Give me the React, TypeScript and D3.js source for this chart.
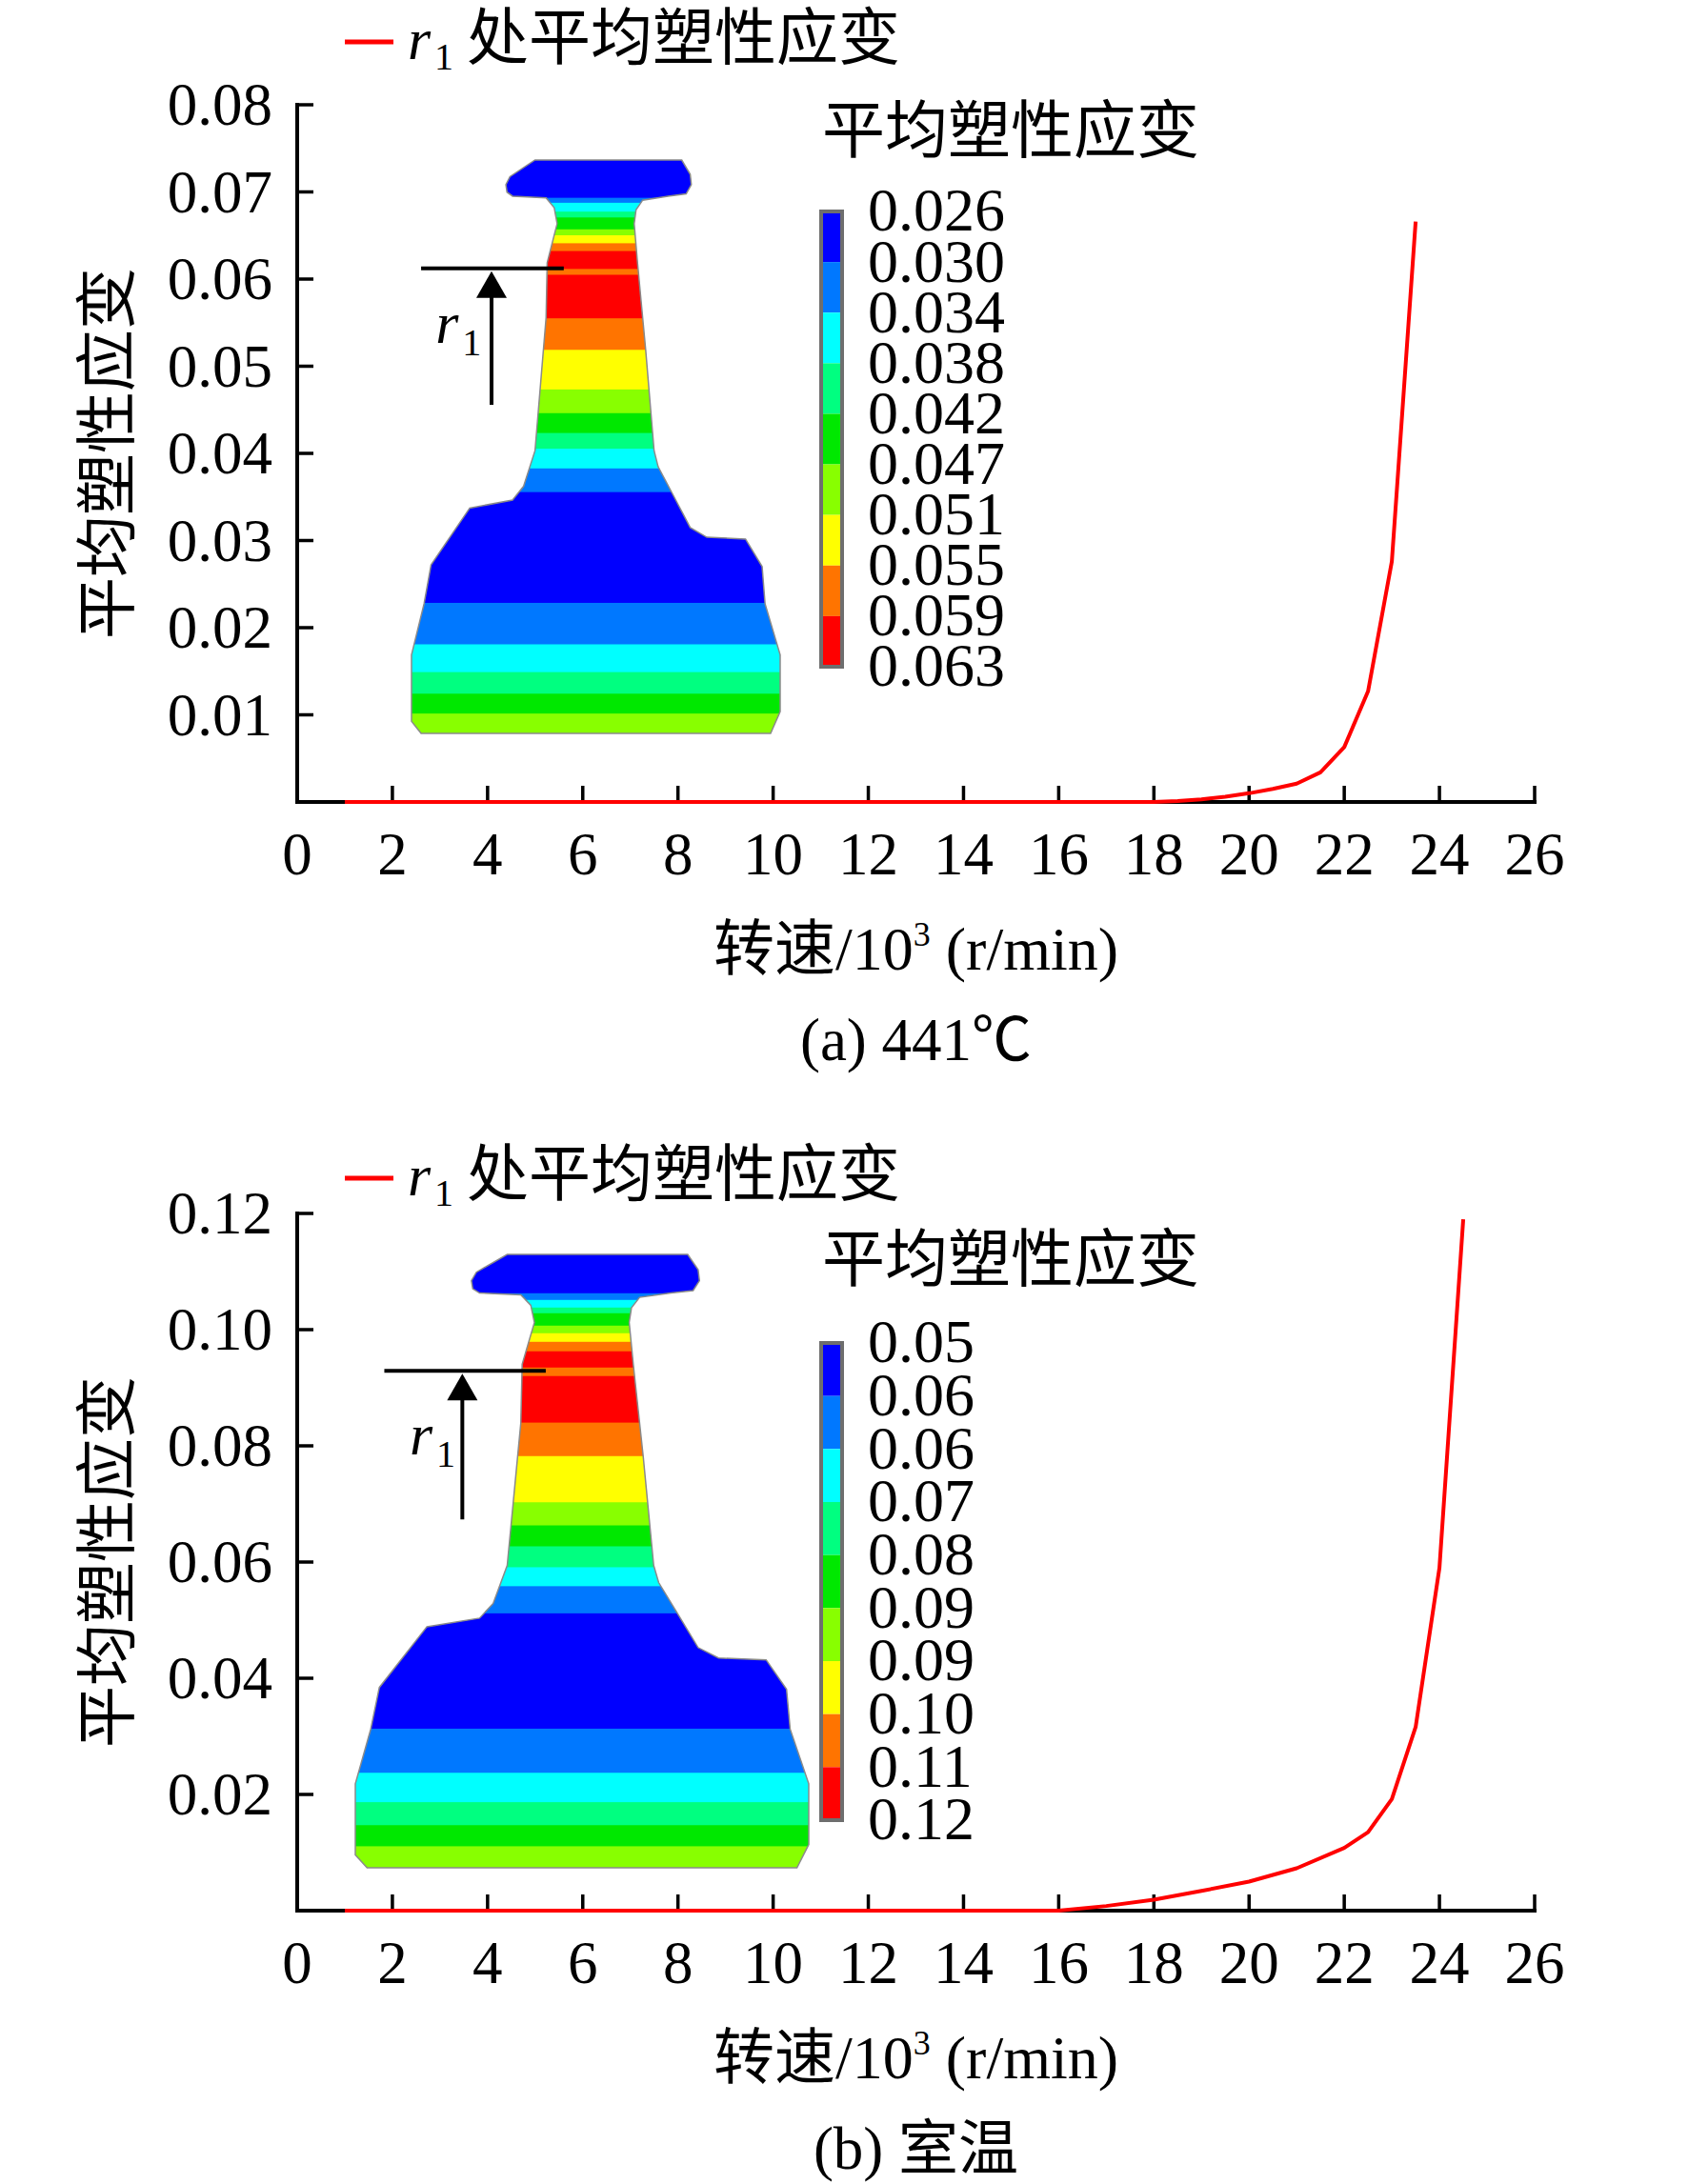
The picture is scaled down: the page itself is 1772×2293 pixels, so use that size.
import React, { useEffect, useRef } from "react";
import * as d3 from "d3";

// speed in 10^3 r/min, average plastic strain at r1
const speedA = [1, 2, 3, 4, 5, 6, 7, 8, 9, 10, 11, 12, 13, 14, 15, 16, 17, 18, 18.5, 19, 19.5, 20, 20.5, 21, 21.5, 22, 22.5, 23, 23.5];
const strainA = [0, 0, 0, 0, 0, 0, 0, 0, 0, 0, 0, 0, 0, 0, 0, 0, 0, 0, 0.0001, 0.0003, 0.0006, 0.001, 0.0015, 0.0021, 0.0034, 0.0063, 0.0127, 0.0276, 0.0666];
const speedB = [1, 2, 3, 4, 5, 6, 7, 8, 9, 10, 11, 12, 13, 14, 15, 16, 17, 18, 19, 20, 21, 22, 22.5, 23, 23.5, 24, 24.5];
const strainB = [0, 0, 0, 0, 0, 0, 0, 0, 0, 0, 0, 0, 0, 0, 0, 0, 0.0008, 0.0019, 0.0034, 0.005, 0.0073, 0.0108, 0.0135, 0.0192, 0.0316, 0.059, 0.119];

const xTicks = [0, 2, 4, 6, 8, 10, 12, 14, 16, 18, 20, 22, 24, 26];
const yTicksA = [0.01, 0.02, 0.03, 0.04, 0.05, 0.06, 0.07, 0.08];
const yTicksB = [0.02, 0.04, 0.06, 0.08, 0.1, 0.12];

const barLabelsA = ["0.026", "0.030", "0.034", "0.038", "0.042", "0.047", "0.051", "0.055", "0.059", "0.063"];
const barLabelsB = ["0.05", "0.06", "0.06", "0.07", "0.08", "0.09", "0.09", "0.10", "0.11", "0.12"];

// contour palette, low -> high
const contourColors = ["#0000ff", "#0078ff", "#00ffff", "#00ff80", "#00e800", "#88ff00", "#ffff00", "#ff7400", "#ff0000"];

// band colour index from top of the section to the bottom
const bandIndex = [0, 1, 2, 3, 4, 5, 6, 7, 8, 7, 8, 7, 6, 5, 4, 3, 2, 1, 0, 1, 2, 3, 4, 5];
// band boundaries, as a fraction of the section height
const bandStopsA = [0.0667, 0.0754, 0.0908, 0.101, 0.1217, 0.1321, 0.146, 0.1596, 0.1908, 0.201, 0.2769, 0.3319, 0.401, 0.4423, 0.4769, 0.5044, 0.5387, 0.58, 0.7732, 0.8455, 0.8939, 0.9316, 0.9662];
const bandStopsB = [0.0641, 0.075, 0.0874, 0.0967, 0.1169, 0.1293, 0.1433, 0.1588, 0.1852, 0.1991, 0.275, 0.3296, 0.4049, 0.4426, 0.4767, 0.5108, 0.5417, 0.586, 0.774, 0.8459, 0.8938, 0.9313, 0.9657];

// disk section outline in unit box coordinates
const railOutline: [number, number][] = [
  [0.335, 0], [0.733, 0], [0.756, 0.025], [0.759, 0.043], [0.745, 0.059], [0.696, 0.063],
  [0.627, 0.07], [0.609, 0.087], [0.604, 0.111], [0.613, 0.179], [0.635, 0.33], [0.658, 0.507],
  [0.669, 0.535], [0.711, 0.586], [0.756, 0.641], [0.801, 0.658], [0.906, 0.661], [0.951, 0.709],
  [0.959, 0.774], [1, 0.863], [1, 0.962], [0.974, 1], [0.026, 1], [0, 0.979], [0, 0.863],
  [0.034, 0.774], [0.053, 0.706], [0.158, 0.607], [0.274, 0.593], [0.304, 0.569], [0.335, 0.507],
  [0.365, 0.275], [0.368, 0.179], [0.395, 0.111], [0.387, 0.083], [0.365, 0.066], [0.274, 0.063],
  [0.259, 0.056], [0.256, 0.043], [0.267, 0.029],
];

const W = 1772;
const H = 2293;
const SERIF = '"Liberation Serif", "Times New Roman", "Noto Sans CJK SC", serif';
const CJK = '"Noto Sans CJK SC", "Noto Sans CJK JP", sans-serif';

const panels = [
  {
    key: "a", speeds: speedA, strain: strainA, yMax: 0.08, yTicks: yTicksA,
    top: 110, bottom: 842, legendY: 44, caption: "(a) 441℃",
    barLabels: barLabelsA, bandStops: bandStopsA, barTitleY: 160, barTop: 222, barBottom: 700,
    shape: { x0: 432, x1: 819, y0: 168, y1: 770 },
    marker: { lx0: 0.026, lx1: 0.413, ly: 0.189, ax: 0.217, ay1: 0.427, rx: 0.065, ry: 0.319 },
  },
  {
    key: "b", speeds: speedB, strain: strainB, yMax: 0.12, yTicks: yTicksB,
    top: 1274, bottom: 2006, legendY: 1237, caption: "(b) 室温",
    barLabels: barLabelsB, bandStops: bandStopsB, barTitleY: 1345, barTop: 1410, barBottom: 1911,
    shape: { x0: 373, x1: 849, y0: 1317, y1: 1961 },
    marker: { lx0: 0.064, lx1: 0.42, ly: 0.19, ax: 0.236, ay1: 0.432, rx: 0.12, ry: 0.326 },
  },
];

export default function App() {
  const ref = useRef<SVGSVGElement>(null);

  useEffect(() => {
    if (!ref.current) return;
    const svg = d3.select(ref.current);
    svg.selectAll("*").remove();

    const left = 312;
    const right = 1611;
    const x = d3.scaleLinear().domain([0, 26]).range([left, right]);

    panels.forEach(p => {
      const g = svg.append("g");
      const y = d3.scaleLinear().domain([0, p.yMax]).range([p.bottom, p.top]);

      // ---- inset: section contour
      const sx = d3.scaleLinear().domain([0, 1]).range([p.shape.x0, p.shape.x1]);
      const sy = d3.scaleLinear().domain([0, 1]).range([p.shape.y0, p.shape.y1]);
      const outline = d3.line<[number, number]>()
        .x(d => sx(d[0]))
        .y(d => sy(d[1]))
        .curve(d3.curveLinearClosed)(railOutline) as string;
      const clipId = `clip-${p.key}`;
      g.append("clipPath").attr("id", clipId).append("path").attr("d", outline);
      const stops = [0, ...p.bandStops, 1];
      const inset = g.append("g").attr("clip-path", `url(#${clipId})`);
      bandIndex.forEach((ci, i) => {
        inset.append("rect")
          .attr("x", sx(0) - 2)
          .attr("width", sx(1) - sx(0) + 4)
          .attr("y", sy(stops[i]) - 0.5)
          .attr("height", sy(stops[i + 1]) - sy(stops[i]) + 1)
          .attr("fill", contourColors[ci]);
      });
      g.append("path").attr("d", outline).attr("fill", "none").attr("stroke", "#8a8a8a").attr("stroke-width", 1.5);

      // r1 marker
      const m = p.marker;
      g.append("line")
        .attr("x1", sx(m.lx0)).attr("x2", sx(m.lx1))
        .attr("y1", sy(m.ly)).attr("y2", sy(m.ly))
        .attr("stroke", "#000").attr("stroke-width", 4);
      const ax = sx(m.ax);
      const tip = sy(m.ly) + 3;
      g.append("line")
        .attr("x1", ax).attr("x2", ax)
        .attr("y1", sy(m.ay1)).attr("y2", tip + 20)
        .attr("stroke", "#000").attr("stroke-width", 4);
      g.append("path")
        .attr("d", `M${ax},${tip} L${ax - 16},${tip + 28} L${ax + 16},${tip + 28} Z`)
        .attr("fill", "#000");
      g.append("text")
        .attr("x", sx(m.rx)).attr("y", sy(m.ry))
        .attr("font-family", SERIF).attr("font-style", "italic").attr("font-size", 62)
        .text("r");
      g.append("text")
        .attr("x", sx(m.rx) + 28).attr("y", sy(m.ry) + 13)
        .attr("font-family", SERIF).attr("font-size", 40)
        .text("1");

      // ---- colour bar
      g.append("text")
        .attr("x", 863).attr("y", p.barTitleY)
        .attr("font-family", CJK).attr("font-size", 66)
        .text("平均塑性应变");
      const bar = d3.scaleLinear().domain([0, 9]).range([p.barTop, p.barBottom]);
      contourColors.forEach((c, i) => {
        g.append("rect")
          .attr("x", 862).attr("width", 22)
          .attr("y", bar(i)).attr("height", bar(i + 1) - bar(i))
          .attr("fill", c);
      });
      g.append("rect")
        .attr("x", 862).attr("width", 22)
        .attr("y", p.barTop).attr("height", p.barBottom - p.barTop)
        .attr("fill", "none").attr("stroke", "#6e6e6e").attr("stroke-width", 4);
      p.barLabels.forEach((lab, i) => {
        g.append("text")
          .attr("x", 911).attr("y", bar(i) - 2)
          .attr("dy", "0.35em")
          .attr("font-family", SERIF).attr("font-size", 64)
          .text(lab);
      });

      // ---- axes
      g.append("line")
        .attr("x1", left).attr("x2", left).attr("y1", y(p.yMax) - 2).attr("y2", p.bottom + 2)
        .attr("stroke", "#000").attr("stroke-width", 4);
      g.append("line")
        .attr("x1", left - 2).attr("x2", right + 2).attr("y1", p.bottom).attr("y2", p.bottom)
        .attr("stroke", "#000").attr("stroke-width", 4);

      p.yTicks.forEach(t => {
        g.append("line")
          .attr("x1", left).attr("x2", left + 17).attr("y1", y(t)).attr("y2", y(t))
          .attr("stroke", "#000").attr("stroke-width", 3.5);
        g.append("text")
          .attr("x", 286).attr("y", y(t))
          .attr("dy", "0.34em")
          .attr("text-anchor", "end")
          .attr("font-family", SERIF).attr("font-size", 63)
          .text(d3.format(".2f")(t));
      });
      xTicks.forEach(t => {
        if (t > 0) {
          g.append("line")
            .attr("x1", x(t)).attr("x2", x(t)).attr("y1", p.bottom).attr("y2", p.bottom - 17)
            .attr("stroke", "#000").attr("stroke-width", 3.5);
        }
        g.append("text")
          .attr("x", x(t)).attr("y", p.bottom + 76)
          .attr("text-anchor", "middle")
          .attr("font-family", SERIF).attr("font-size", 63)
          .text(String(t));
      });

      // ---- series
      const pts = p.speeds.map((s, i) => [s, p.strain[i]] as [number, number]);
      g.append("path")
        .datum(pts)
        .attr("fill", "none")
        .attr("stroke", "#ff0000")
        .attr("stroke-width", 4)
        .attr("stroke-linejoin", "round")
        .attr("d", d3.line<[number, number]>().x(d => x(d[0])).y(d => y(d[1])) as any);

      // ---- legend
      g.append("line")
        .attr("x1", 362).attr("x2", 413).attr("y1", p.legendY).attr("y2", p.legendY)
        .attr("stroke", "#ff0000").attr("stroke-width", 5);
      g.append("text")
        .attr("x", 428).attr("y", p.legendY + 18)
        .attr("font-family", SERIF).attr("font-style", "italic").attr("font-size", 62)
        .text("r");
      g.append("text")
        .attr("x", 456).attr("y", p.legendY + 29)
        .attr("font-family", SERIF).attr("font-size", 40)
        .text("1");
      g.append("text")
        .attr("x", 490).attr("y", p.legendY + 18)
        .attr("font-family", CJK).attr("font-size", 65)
        .text("处平均塑性应变");

      // ---- titles
      g.append("text")
        .attr("transform", `translate(112,${(p.top + p.bottom) / 2}) rotate(-90)`)
        .attr("text-anchor", "middle")
        .attr("dy", "0.35em")
        .attr("font-family", CJK).attr("font-size", 65)
        .text("平均塑性应变");

      const xt = g.append("text")
        .attr("x", (left + right) / 2).attr("y", p.bottom + 176)
        .attr("text-anchor", "middle")
        .attr("font-family", SERIF).attr("font-size", 64);
      xt.append("tspan").text("转速/10");
      xt.append("tspan").attr("font-size", 36).attr("dy", -25).text("3");
      xt.append("tspan").attr("dy", 25).text(" (r/min)");

      g.append("text")
        .attr("x", (left + right) / 2).attr("y", p.bottom + 271)
        .attr("text-anchor", "middle")
        .attr("font-family", SERIF).attr("font-size", 63)
        .text(p.caption);
    });
  }, []);

  return (
    <svg
      ref={ref}
      width={W}
      height={H}
      viewBox={`0 0 ${W} ${H}`}
      style={{ position: "absolute", left: 0, top: 0, background: "#fff" }}
    />
  );
}
